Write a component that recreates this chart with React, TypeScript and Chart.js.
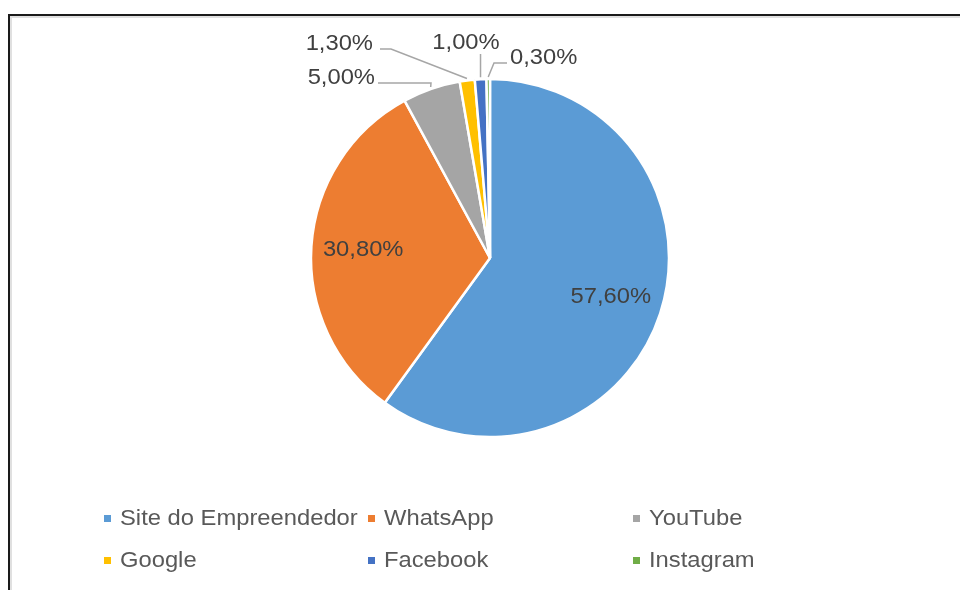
import React, { useEffect, useRef } from "react";
import { Chart, registerables } from "chart.js";

Chart.register(...registerables);

const categories = ["Site do Empreendedor", "WhatsApp", "YouTube", "Google", "Facebook", "Instagram"];
const values = [57.6, 30.8, 5.0, 1.3, 1.0, 0.3];
const colors = ["#5B9BD5", "#ED7D31", "#A5A5A5", "#FFC000", "#4472C4", "#70AD47"];

const FONT = '"Liberation Sans", Arial, sans-serif';
const fmt = (v: number) => v.toFixed(2).replace(".", ",") + "%";

// outside label placement (style/layout only)
const outside: Record<number, { tx: number; ty: number; align: CanvasTextAlign; path: [number, number][] }> = {
  2: { tx: 375, ty: 78, align: "right", path: [[378, 83], [431, 83]] },
  3: { tx: 373, ty: 44, align: "right", path: [[380, 49], [391, 49]] },
  4: { tx: 466, ty: 43, align: "center", path: [[481, 54]] },
  5: { tx: 510, ty: 58, align: "left", path: [[507, 63], [494, 63]] },
};

const SX = 1.08;
function drawText(ctx: CanvasRenderingContext2D, text: string, x: number, y: number, align: CanvasTextAlign) {
  ctx.save();
  ctx.translate(x, y);
  ctx.scale(SX, 1);
  ctx.textAlign = align;
  ctx.textBaseline = "middle";
  ctx.fillText(text, 0, 0);
  ctx.restore();
}

const labelPlugin = {
  id: "customLabels",
  afterDraw(chart: any) {
    const ctx: CanvasRenderingContext2D = chart.ctx;
    ctx.save();
    // frame
    ctx.fillStyle = "#e0e0e0";
    ctx.fillRect(10, 16, 960, 2);
    ctx.fillRect(10, 16, 2, 590);
    ctx.fillStyle = "#1a1a1a";
    ctx.fillRect(8, 14, 960, 2);
    ctx.fillRect(8, 14, 2, 590);

    const meta = chart.getDatasetMeta(0);
    const arcs = meta.data;
    ctx.font = `22px ${FONT}`;
    arcs.forEach((arc: any, i: number) => {
      const { x, y, startAngle, endAngle, outerRadius } = arc.getProps(["x", "y", "startAngle", "endAngle", "outerRadius"], true);
      const mid = (startAngle + endAngle) / 2;
      if (i < 2) {
        const r = outerRadius * 0.71;
        ctx.fillStyle = "#404040";
        drawText(ctx, fmt(values[i]), x + Math.cos(mid) * r, y + Math.sin(mid) * r, "center");
      } else {
        const o = outside[i];
        if (!o) return;
        const ax = x + Math.cos(mid) * (outerRadius + 2);
        const ay = y + Math.sin(mid) * (outerRadius + 2);
        ctx.strokeStyle = "#A6A6A6";
        ctx.lineWidth = 1.5;
        ctx.beginPath();
        const pts = i === 4 ? [[ax, o.path[0][1]] as [number, number]] : o.path;
        ctx.moveTo(pts[0][0], pts[0][1]);
        for (let k = 1; k < pts.length; k++) ctx.lineTo(pts[k][0], pts[k][1]);
        ctx.lineTo(ax, ay);
        ctx.stroke();
        ctx.fillStyle = "#404040";
        drawText(ctx, fmt(values[i]), o.tx, o.ty, o.align);
      }
    });

    // legend
    const cols = [104, 368, 633];
    const rows = [519, 561];
    ctx.font = `22px ${FONT}`;
    categories.forEach((c, i) => {
      const cx = cols[i % 3];
      const cy = rows[Math.floor(i / 3)];
      ctx.fillStyle = colors[i];
      ctx.fillRect(cx, cy - 4, 7, 7);
      ctx.fillStyle = "#595959";
      drawText(ctx, c, cx + 16, cy, "left");
    });
    ctx.restore();
  },
};

export default function App() {
  const ref = useRef<HTMLCanvasElement>(null);
  useEffect(() => {
    if (!ref.current) return;
    const chart = new Chart(ref.current, {
      type: "pie",
      data: {
        labels: categories,
        datasets: [
          {
            data: values,
            backgroundColor: colors,
            borderColor: "#ffffff",
            borderWidth: 2.5,
            hoverOffset: 0,
          },
        ],
      },
      options: {
        responsive: false,
        animation: false,
        devicePixelRatio: 1,
        radius: 179,
        layout: { padding: { left: 311, right: 291, top: 79, bottom: 153 } },
        plugins: {
          legend: { display: false },
          tooltip: { enabled: false },
        },
      } as any,
      plugins: [labelPlugin],
    });
    return () => chart.destroy();
  }, []);
  return (
    <div style={{ position: "absolute", left: 0, top: 0, width: 960, height: 590, background: "#fff" }}>
      <canvas ref={ref} width={960} height={590} style={{ width: 960, height: 590, display: "block" }} />
    </div>
  );
}
